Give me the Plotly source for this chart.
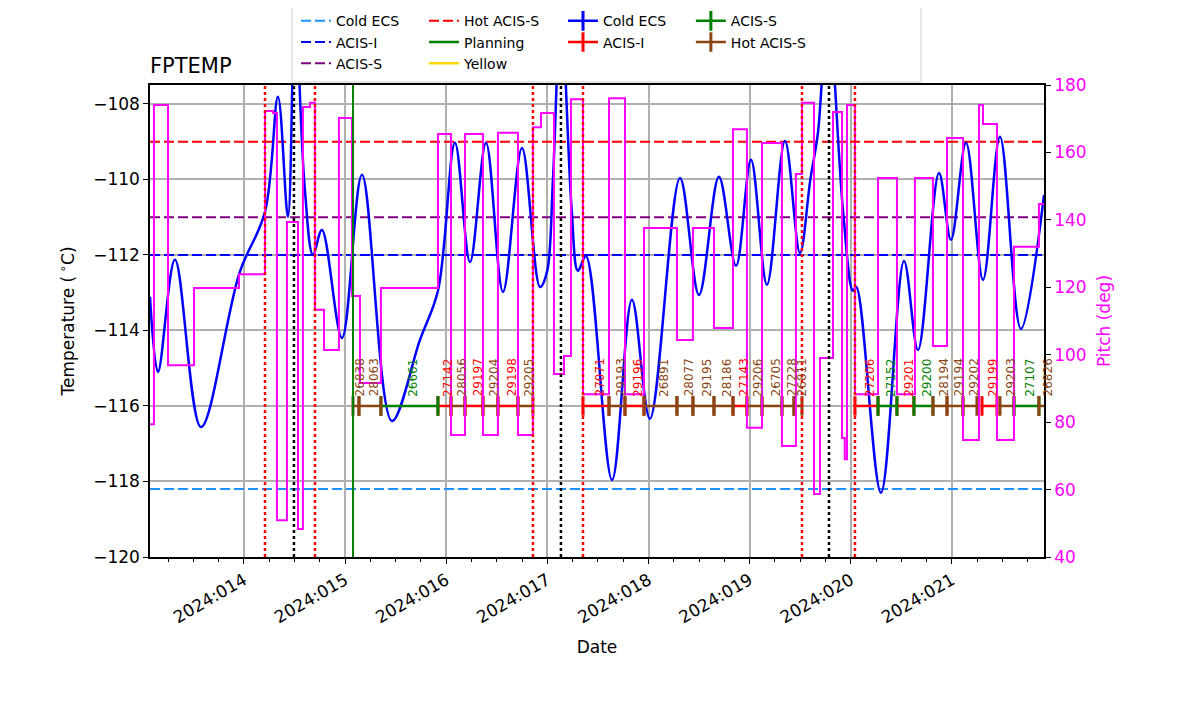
import plotly.graph_objects as go

# ---------------- data (x = fractional day-of-year 2024) ----------------
YEAR = 2024
tick_days = [14, 15, 16, 17, 18, 19, 20, 21]
tick_labels = [f"{YEAR}:{d:03d}" for d in tick_days]
x_range = [13.071, 21.910]
temp_range = [-120.0, -107.5]
pitch_range = [40, 180]

temp_time = [13.071, 13.150, 13.318, 13.575, 13.955, 14.208, 14.336, 14.435, 14.505, 14.600,
             14.682, 14.771, 14.969, 15.167, 15.463, 15.740, 15.918, 16.086, 16.235, 16.393,
             16.561, 16.749, 16.927, 16.996, 17.055, 17.134, 17.240, 17.302, 17.381, 17.639,
             17.836, 18.014, 18.311, 18.499, 18.696, 18.865, 19.013, 19.171, 19.349, 19.497,
             19.600, 19.675, 19.774, 19.925, 20.021, 20.055, 20.298, 20.526, 20.664, 20.872,
             20.990, 21.139, 21.307, 21.475, 21.682, 21.910]
temp_vals = [-113.11, -115.10, -112.13, -116.56, -112.48, -110.86, -107.81, -110.99, -105.5, -110.2,
             -112.0, -111.34, -114.2, -109.88, -116.40, -114.25, -112.95, -109.03, -112.19, -109.03,
             -112.98, -109.17, -112.85, -112.45, -110.0, -105.5, -110.8, -112.42, -112.03, -117.96,
             -113.19, -116.34, -109.96, -113.06, -109.93, -112.29, -109.48, -112.79, -108.98, -111.95,
             -110.0, -108.77, -105.5, -110.9, -112.95, -112.85, -118.30, -112.16, -114.52, -109.83,
             -111.60, -109.03, -112.66, -108.87, -113.96, -110.41]

pitch_time = [13.071, 13.110, 13.249, 13.506, 13.951, 14.208, 14.287, 14.326, 14.425, 14.534,
              14.583, 14.653, 14.702, 14.791, 14.939, 15.068, 15.147, 15.354, 15.918, 16.047,
              16.185, 16.363, 16.511, 16.709, 16.857, 16.937, 17.065, 17.164, 17.233, 17.352,
              17.609, 17.767, 17.955, 18.281, 18.439, 18.647, 18.835, 18.973, 19.122, 19.319,
              19.457, 19.517, 19.636, 19.695, 19.824, 19.913, 19.940, 19.962, 20.041, 20.269,
              20.456, 20.634, 20.812, 20.951, 21.109, 21.267, 21.307, 21.445, 21.613, 21.860,
              21.910]
pitch_vals = [79.4, 174.1, 96.9, 119.8, 123.9, 172.3, 171.7, 50.9, 139.4, 48.3,
              173.5, 174.7, 113.3, 101.4, 170.2, 117.4, 91.6, 119.8, 165.5, 76.2,
              165.5, 76.2, 165.8, 76.2, 167.5, 171.7, 94.3, 99.6, 175.8, 88.3,
              176.1, 88.3, 137.6, 104.4, 137.6, 107.9, 166.9, 78.3, 162.8, 72.9,
              153.6, 174.7, 58.7, 99.0, 172.0, 75.3, 69.0, 174.1, 88.3, 152.4,
              88.3, 152.4, 102.6, 164.3, 74.7, 174.1, 168.4, 74.7, 132.0, 144.7,
              144.7]

limit_names = ["Cold ECS", "ACIS-I", "ACIS-S", "Hot ACIS-S"]
limit_vals = [-118.2, -112.0, -111.0, -109.0]
limit_colors = ["#1e90ff", "#0000ff", "#800080", "#ff0000"]

radzone_times = [14.208, 14.702, 16.857, 17.352, 19.517, 20.041]
perigee_times = [14.494, 17.134, 19.784]
load_start_times = [15.078]

obsids = [26838, 28063, 26661, 27142, 28056, 29197, 29204, 29198, 29205, 27071,
          29193, 29196, 26891, 28077, 29195, 28186, 27143, 29206, 26705, 27228,
          26811, 27206, 27152, 29201, 29200, 28194, 29194, 29202, 29199, 29203,
          27107, 26826]
obs_start = [15.078, 15.137, 15.354, 15.918, 16.047, 16.185, 16.363, 16.511, 16.709, 17.352,
             17.609, 17.767, 17.955, 18.281, 18.439, 18.647, 18.835, 18.973, 19.122, 19.319,
             19.438, 20.041, 20.269, 20.456, 20.624, 20.812, 20.951, 21.109, 21.297, 21.475,
             21.613, 21.860]
obs_stop = [15.137, 15.354, 15.918, 16.047, 16.185, 16.363, 16.511, 16.709, 16.857, 17.609,
            17.767, 17.955, 18.281, 18.439, 18.647, 18.835, 18.973, 19.122, 19.319, 19.438,
            19.517, 20.269, 20.456, 20.624, 20.812, 20.951, 21.109, 21.247, 21.445, 21.613,
            21.860, 21.960]
obs_mode = ["Hot ACIS-S", "Hot ACIS-S", "ACIS-S", "ACIS-I", "Hot ACIS-S", "ACIS-I", "Hot ACIS-S",
            "ACIS-I", "Hot ACIS-S", "ACIS-I", "Hot ACIS-S", "ACIS-I", "Hot ACIS-S", "Hot ACIS-S",
            "Hot ACIS-S", "Hot ACIS-S", "ACIS-I", "Hot ACIS-S", "Hot ACIS-S", "Hot ACIS-S",
            "Hot ACIS-S", "ACIS-I", "ACIS-S", "ACIS-I", "ACIS-S", "Hot ACIS-S", "Hot ACIS-S",
            "Hot ACIS-S", "ACIS-I", "Hot ACIS-S", "ACIS-S", "Hot ACIS-S"]
obs_level = -116.0
mode_colors = {"Cold ECS": "#0000ff", "ACIS-I": "#ff0000", "ACIS-S": "#008000",
               "Hot ACIS-S": "#8b4513"}

# ---------------- figure ----------------
FONT = "DejaVu Sans"
fig = go.Figure()

# limit lines
legend_for_limit = ["legend", "legend", "legend", "legend2"]
for name, val, col, lg in zip(limit_names, limit_vals, limit_colors, legend_for_limit):
    fig.add_trace(go.Scatter(x=x_range, y=[val, val], mode="lines", name=name,
                             line=dict(color=col, width=2, dash="10px,4px"), legend=lg))
fig.add_trace(go.Scatter(x=[None], y=[None], mode="lines", name="Planning",
                         line=dict(color="#008000", width=2.5), legend="legend2"))
fig.add_trace(go.Scatter(x=[None], y=[None], mode="lines", name="Yellow",
                         line=dict(color="#ffd700", width=2.5), legend="legend2"))

# temperature
fig.add_trace(go.Scatter(x=temp_time, y=temp_vals, mode="lines", showlegend=False,
                         line=dict(color="#0000ff", width=2.5, shape="spline", smoothing=1.0)))

# obsid segments
legend_for_mode = {"Cold ECS": "legend3", "ACIS-I": "legend3", "ACIS-S": "legend4",
                   "Hot ACIS-S": "legend4"}
for mode in ["Cold ECS", "ACIS-I", "ACIS-S", "Hot ACIS-S"]:
    xs, ys = [], []
    for s, e, m in zip(obs_start, obs_stop, obs_mode):
        if m == mode:
            xs += [s, e, None]
            ys += [obs_level, obs_level, None]
    if not xs:
        xs, ys = [None], [None]
    fig.add_trace(go.Scatter(x=xs, y=ys, mode="lines+markers", name=mode,
                             legend=legend_for_mode[mode],
                             line=dict(color=mode_colors[mode], width=2.5),
                             marker=dict(symbol="line-ns", size=14,
                                         line=dict(color=mode_colors[mode], width=3))))

# pitch
fig.add_trace(go.Scatter(x=pitch_time, y=pitch_vals, mode="lines", showlegend=False, yaxis="y2",
                         line=dict(color="#ff00ff", width=2, shape="hv")))

# obsid labels
for oid, s, e, m in zip(obsids, obs_start, obs_stop, obs_mode):
    xm = min((s + e) / 2, x_range[1])
    fig.add_annotation(x=xm, y=obs_level + 0.2, text=str(oid), textangle=-90, showarrow=False,
                       xanchor="center", yanchor="bottom", xshift=4,
                       font=dict(family=FONT, size=12, color=mode_colors[m]))

# vertical lines
for t in radzone_times:
    fig.add_vline(x=t, line=dict(color="#ff0000", width=2.5, dash="3px,3px"))
for t in perigee_times:
    fig.add_vline(x=t, line=dict(color="#000000", width=2.5, dash="3px,3px"))
for t in load_start_times:
    fig.add_vline(x=t, line=dict(color="#008000", width=2))

# legend frame
fig.add_shape(type="rect", xref="paper", yref="paper", x0=0.1588, x1=0.8624, y0=1.0064, y1=1.1653,
              line=dict(color="#cccccc", width=1), fillcolor="rgba(255,255,255,0.8)", layer="above")

leg_common = dict(xanchor="left", yanchor="top", orientation="v", bgcolor="rgba(0,0,0,0)",
                  borderwidth=0, font=dict(family=FONT, size=14), tracegroupgap=0)
grid_col = "#b0b0b0"
fig.update_layout(
    width=1200, height=714,
    margin=dict(l=142, r=164, t=77, b=165, autoexpand=False),
    plot_bgcolor="white", paper_bgcolor="white",
    font=dict(family=FONT, size=17, color="black"),
    title=dict(text="FPTEMP", x=0, xref="paper", xanchor="left", y=1, yref="paper",
               yanchor="bottom", pad=dict(b=12), font=dict(family=FONT, size=21)),
    legend=dict(x=0.1633, y=1.169, **leg_common),
    legend2=dict(x=0.3065, y=1.169, **leg_common),
    legend3=dict(x=0.462, y=1.169, **leg_common),
    legend4=dict(x=0.605, y=1.169, **leg_common),
    xaxis=dict(range=x_range, tickmode="array", tickvals=tick_days, ticktext=tick_labels,
               tickangle=-30, showgrid=True, gridcolor=grid_col, gridwidth=1.5, zeroline=False,
               showline=True, linecolor="black", linewidth=1.5, mirror=True,
               ticks="outside", ticklen=5, tickwidth=1.2, tickcolor="black",
               tickfont=dict(size=17),
               minor=dict(dtick=0.25, tick0=14, ticks="outside", ticklen=3, tickwidth=1,
                          tickcolor="black", showgrid=False),
               title=dict(text="Date", standoff=15, font=dict(size=17))),
    yaxis=dict(range=temp_range, tick0=-120, dtick=2, showgrid=True, gridcolor=grid_col,
               gridwidth=1.5, zeroline=False, showline=True, linecolor="black", linewidth=1.5,
               ticks="outside", ticklen=5, tickwidth=1.2, tickcolor="black",
               tickfont=dict(size=17),
               title=dict(text="Temperature (\u2009<sup>\u2218</sup>C)", standoff=14,
                          font=dict(size=17))),
    yaxis2=dict(range=pitch_range, tick0=40, dtick=20, overlaying="y", side="right",
                showgrid=False, zeroline=False, showline=True, linecolor="black", linewidth=1.5,
                ticks="outside", ticklen=5, tickwidth=1.2, tickcolor="black",
                tickfont=dict(color="#ff00ff", size=17),
                title=dict(text="Pitch (deg)", font=dict(color="#ff00ff", size=17), standoff=12)),
)

fig.write_html("out.html")
